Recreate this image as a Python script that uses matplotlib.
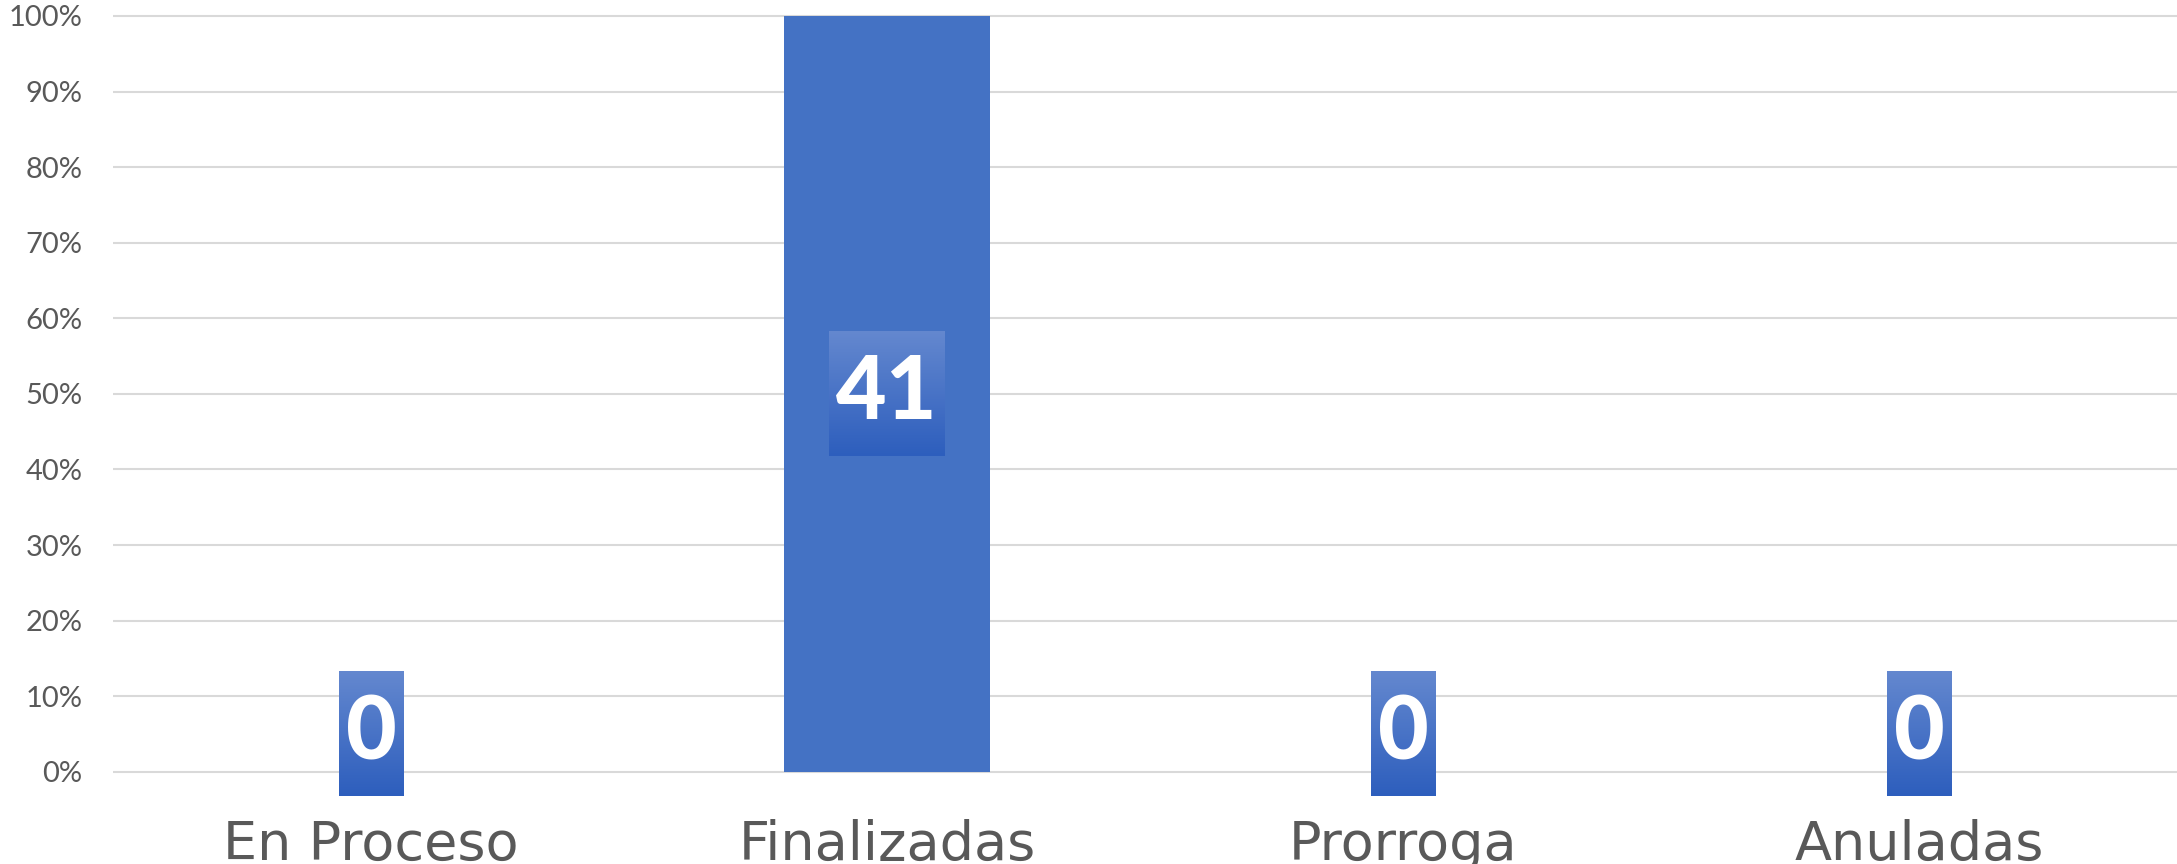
import numpy as np
import matplotlib
matplotlib.use("Agg")
import matplotlib.pyplot as plt
from matplotlib.colors import LinearSegmentedColormap

# data
categories = ["En Proceso", "Finalizadas", "Prorroga", "Anuladas"]
counts = [0, 41, 0, 0]
y_ticks = [0, 10, 20, 30, 40, 50, 60, 70, 80, 90, 100]

total = sum(counts)
shares = [100.0 * c / total for c in counts]

bar_color = "#4472c4"
grey = "#595959"
grad = LinearSegmentedColormap.from_list("lbl", ["#2d5ebd", "#6488cf"])

fig = plt.figure(figsize=(21.77, 8.64), dpi=100)
ax = fig.add_axes([0.0519, 0.1068, 0.9481, 0.8747])

x = np.arange(len(categories))
ax.bar(x, shares, width=0.4, color=bar_color, zorder=2)
ax.set_xlim(-0.5, len(categories) - 0.5)
ax.set_ylim(0, 100)
ax.set_autoscale_on(False)

# gridlines (not clipped so the 100% line shows fully)
ax.hlines(y_ticks, -0.5, len(categories) - 0.5, colors="#d9d9d9",
          linewidth=1.5, zorder=1, clip_on=False)

for s in ax.spines.values():
    s.set_visible(False)

ax.set_yticks(y_ticks)
ax.set_yticklabels([f"{v}%" for v in y_ticks], family=["Lato", "DejaVu Sans"],
                   fontsize=21, color=grey)
ax.set_xticks(x)
ax.set_xticklabels(categories, family=["DejaVu Sans"],
                   fontsize=39, color=grey)
ax.tick_params(axis="y", length=0, pad=22)
ax.tick_params(axis="x", length=0, pad=34)

# data labels with gradient boxes
texts = []
for i, (c, s) in enumerate(zip(counts, shares)):
    ypos = s / 2 if s > 0 else 5
    t = ax.text(i, ypos, str(c), ha="center", va="center", fontsize=63,
                fontweight="black", color="white", family=["Lato", "DejaVu Sans"],
                zorder=5)
    texts.append(t)

fig.canvas.draw()
renderer = fig.canvas.get_renderer()
inv = ax.transData.inverted()
padx, pady = 7, 22
for t in texts:
    bb = t.get_window_extent(renderer)
    x0, y0 = inv.transform((bb.x0 - padx, bb.y0 - pady))
    x1, y1 = inv.transform((bb.x1 + padx, bb.y1 + pady))
    g = np.linspace(0, 1, 256).reshape(-1, 1)
    ax.imshow(g, cmap=grad, extent=(x0, x1, y0, y1), origin="lower",
              aspect="auto", interpolation="bicubic", zorder=4, clip_on=False)

ax.set_xlim(-0.5, len(categories) - 0.5)
ax.set_ylim(0, 100)

fig.savefig("out.png", dpi=100)
